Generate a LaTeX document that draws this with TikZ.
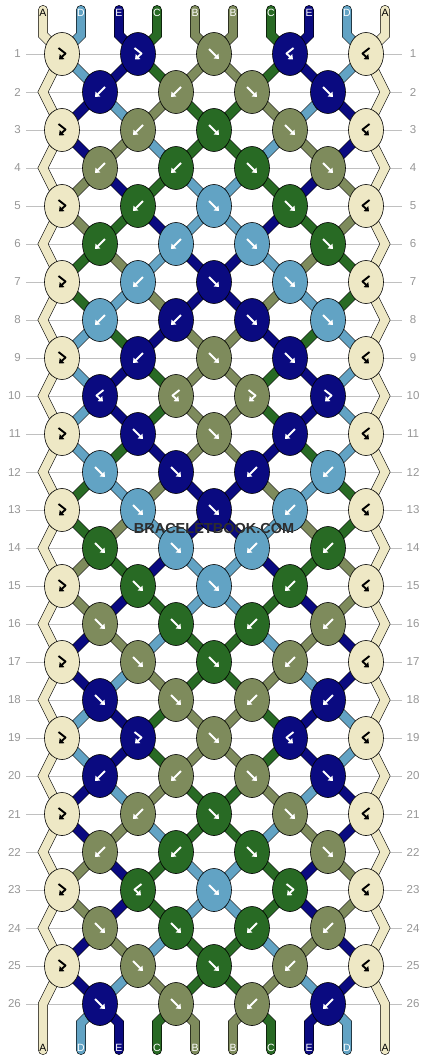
\documentclass[tikz,border=0pt]{standalone}
\usepackage{fontspec}
\setmainfont{Liberation Sans}
\usetikzlibrary{shapes.geometric,arrows.meta}

\definecolor{colA}{RGB}{238,232,197}
\definecolor{colB}{RGB}{126,139,92}
\definecolor{colC}{RGB}{40,106,36}
\definecolor{colD}{RGB}{98,163,196}
\definecolor{colE}{RGB}{10,10,128}
\colorlet{arcA}{black}
\colorlet{arcB}{white}
\colorlet{arcC}{white}
\colorlet{arcD}{white}
\colorlet{arcE}{white}
\definecolor{gridgray}{RGB}{192,192,192}
\definecolor{numgray}{RGB}{150,150,150}

\pgfdeclarelayer{grid}
\pgfdeclarelayer{threads}
\pgfsetlayers{grid,threads,main}

\tikzset{
  knot/.style={ellipse, draw=black, line width=0.6pt, fill=col#1,
    minimum width=35pt, minimum height=43pt, inner sep=0pt},
  thread/.style={draw=black, line width=0.6pt, double=col#1, double distance=8.6pt},
  arr/.style={draw=arc#1, line width=1.9pt, line join=round,
    -{Triangle[length=4.2pt,width=6.6pt]}},
  strlabel/.style={text=arc#1, font=\fontsize{10.5}{10.5}\selectfont, inner sep=0pt},
  rownum/.style={text=numgray, font=\fontsize{11.5}{11.5}\selectfont, inner sep=0pt},
  gridline/.style={draw=gridgray, line width=1pt},
}

% arrows inside the knots
\newcommand\arrowF[2]{\draw[arr=#2] ([shift={(-5,-5)}]#1.center) -- ([shift={(5,5)}]#1.center);}
\newcommand\arrowB[2]{\draw[arr=#2] ([shift={(5,-5)}]#1.center) -- ([shift={(-5,5)}]#1.center);}
\newcommand\arrowFB[2]{\draw[arr=#2] ([shift={(-3.5,-6)}]#1.center) -- ([shift={(3.5,-0.5)}]#1.center) -- ([shift={(-3,5.5)}]#1.center);}
\newcommand\arrowBF[2]{\draw[arr=#2] ([shift={(3.5,-6)}]#1.center) -- ([shift={(-3.5,-0.5)}]#1.center) -- ([shift={(3,5.5)}]#1.center);}

\begin{document}
\begin{tikzpicture}[x=1pt,y=-1pt]
\useasboundingbox (0,0) rectangle (430,1060);

% knots
\foreach \r/\ks in {
  1/{A/FB,E/FB,B/F,E/BF,A/BF},
  2/{E/B,B/B,B/F,E/F},
  3/{A/FB,B/B,C/F,B/F,A/BF},
  4/{B/B,C/B,C/F,B/F},
  5/{A/FB,C/B,D/F,C/F,A/BF},
  6/{C/B,D/B,D/F,C/F},
  7/{A/FB,D/B,E/F,D/F,A/BF},
  8/{D/B,E/B,E/F,D/F},
  9/{A/FB,E/B,B/F,E/F,A/BF},
  10/{E/BF,B/BF,B/FB,E/FB},
  11/{A/FB,E/F,B/F,E/B,A/BF},
  12/{D/F,E/F,E/B,D/B},
  13/{A/FB,D/F,E/F,D/B,A/BF},
  14/{C/F,D/F,D/B,C/B},
  15/{A/FB,C/F,D/F,C/B,A/BF},
  16/{B/F,C/F,C/B,B/B},
  17/{A/FB,B/F,C/F,B/B,A/BF},
  18/{E/F,B/F,B/B,E/B},
  19/{A/FB,E/FB,B/F,E/BF,A/BF},
  20/{E/B,B/B,B/F,E/F},
  21/{A/FB,B/B,C/F,B/F,A/BF},
  22/{B/B,C/B,C/F,B/F},
  23/{A/FB,C/BF,D/F,C/FB,A/BF},
  24/{B/F,C/F,C/B,B/B},
  25/{A/FB,B/F,C/F,B/B,A/BF},
  26/{E/F,B/F,B/B,E/B}}{
  \foreach \kc/\kt [count=\kn from 0] in \ks {
    \pgfmathtruncatemacro\col{2*\kn+1-mod(\r,2)}
    \node[knot=\kc] (k-\r-\col) at ({62+38*\col},{54+38*(\r-1)}) {};
    \csname arrow\kt\endcsname{k-\r-\col}{\kc}
  }
}

% threads
\begin{pgfonlayer}{threads}
\foreach \sc [count=\i from 0] in {A,D,E,C,B,B,C,E,D,A}{
  \pgfmathtruncatemacro\col{2*int(\i/2)}
  \coordinate (t-\i) at ({43+38*\i},10);
  \draw[thread=\sc, line cap=round] (t-\i) -- ++(0,25) -- (k-1-\col.center);
}
\foreach \r/\ss in {
  1/{D,E,C,B,B,C,E,D}, 2/{E,D,B,C,C,B,D,E}, 3/{E,B,D,C,C,D,B,E},
  4/{B,E,C,D,D,C,E,B}, 5/{B,C,E,D,D,E,C,B}, 6/{C,B,D,E,E,D,B,C},
  7/{C,D,B,E,E,B,D,C}, 8/{D,C,E,B,B,E,C,D}, 9/{D,E,C,B,B,C,E,D},
  10/{D,E,C,B,B,C,E,D}, 11/{D,C,E,B,B,E,C,D}, 12/{C,D,B,E,E,B,D,C},
  13/{C,B,D,E,E,D,B,C}, 14/{B,C,E,D,D,E,C,B}, 15/{B,E,C,D,D,C,E,B},
  16/{E,B,D,C,C,D,B,E}, 17/{E,D,B,C,C,B,D,E}, 18/{D,E,C,B,B,C,E,D},
  19/{D,E,C,B,B,C,E,D}, 20/{E,D,B,C,C,B,D,E}, 21/{E,B,D,C,C,D,B,E},
  22/{B,E,C,D,D,C,E,B}, 23/{B,E,C,D,D,C,E,B}, 24/{E,B,D,C,C,D,B,E},
  25/{E,D,B,C,C,B,D,E}}{
  \pgfmathtruncatemacro\rn{\r+1}
  \foreach \sc [count=\ps] in \ss {
    \pgfmathtruncatemacro\ca{\ps-1+mod(\r+\ps,2)}
    \pgfmathtruncatemacro\cb{2*\ps-1-\ca}
    \draw[thread=\sc] (k-\r-\ca.center) -- (k-\rn-\cb.center);
  }
}
\foreach \r in {1,3,...,23}{
  \pgfmathtruncatemacro\rv{\r+1}
  \pgfmathtruncatemacro\rr{\r+2}
  \coordinate (zl-\rv) at (43,{54+38*\r});
  \coordinate (zr-\rv) at (385,{54+38*\r});
  \draw[thread=A] (k-\r-0.center) -- (zl-\rv) -- (k-\rr-0.center);
  \draw[thread=A] (k-\r-8.center) -- (zr-\rv) -- (k-\rr-8.center);
}
\coordinate (zl-26) at (43,1004);
\coordinate (zr-26) at (385,1004);
\coordinate (b-0) at (43,1050);
\coordinate (b-9) at (385,1050);
\draw[thread=A, line cap=round] (k-25-0.center) -- (zl-26) -- (b-0);
\draw[thread=A, line cap=round] (k-25-8.center) -- (zr-26) -- (b-9);
\foreach \sc [count=\ps] in {D,E,C,B,B,C,E,D}{
  \pgfmathtruncatemacro\col{\ps-1+mod(\ps,2)}
  \coordinate (b-\ps) at ({43+38*\ps},1050);
  \draw[thread=\sc, line cap=round] (k-26-\col.center) -- ({43+38*\ps},1023) -- (b-\ps);
}
\end{pgfonlayer}

% rows
\begin{pgfonlayer}{grid}
\foreach \r in {1,...,26}{
  \node[rownum, anchor=east] (nl-\r) at (21,{54+38*(\r-1)}) {\r};
  \node[rownum] (nr-\r) at (413,{54+38*(\r-1)}) {\r};
  \draw[gridline] (26,{54+38*(\r-1)}) -- (402,{54+38*(\r-1)});
}
\end{pgfonlayer}

% string labels
\foreach \sc [count=\i from 0] in {A,D,E,C,B,B,C,E,D,A}{
  \node[strlabel=\sc] (tl-\i) at ({43+38*\i},13) {\sc};
  \node[strlabel=\sc] (bl-\i) at ({43+38*\i},1048) {\sc};
}

\node[font=\bfseries\fontsize{14.5}{14.5}\selectfont, text=black!82] (wm) at (214,529) {BRACELETBOOK.COM};
\end{tikzpicture}
\end{document}
